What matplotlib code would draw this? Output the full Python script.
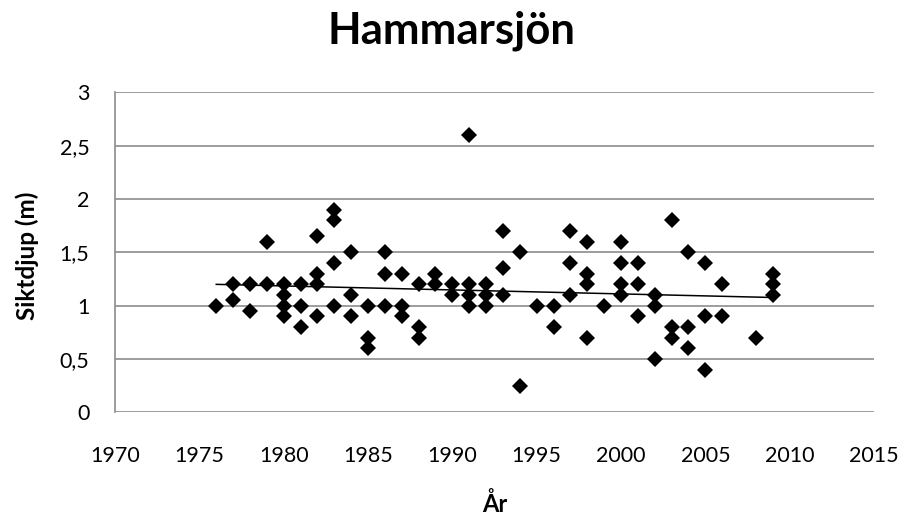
import numpy as np
import matplotlib
matplotlib.use('Agg')
import matplotlib.pyplot as plt
from matplotlib.ticker import FuncFormatter

plt.rcParams['font.family'] = ['Lato', 'DejaVu Sans']

# Siktdjup per år (m)
years = [1976,
         1977, 1977,
         1978, 1978,
         1979, 1979,
         1980, 1980, 1980, 1980,
         1981, 1981, 1981,
         1982, 1982, 1982, 1982,
         1983, 1983, 1983, 1983,
         1984, 1984, 1984,
         1985, 1985, 1985,
         1986, 1986, 1986,
         1987, 1987, 1987,
         1988, 1988, 1988,
         1989, 1989,
         1990, 1990,
         1991, 1991, 1991, 1991,
         1992, 1992, 1992,
         1993, 1993, 1993,
         1994, 1994,
         1995,
         1996, 1996,
         1997, 1997, 1997,
         1998, 1998, 1998, 1998,
         1999,
         2000, 2000, 2000, 2000,
         2001, 2001, 2001,
         2002, 2002, 2002,
         2003, 2003, 2003,
         2004, 2004, 2004,
         2005, 2005, 2005,
         2006, 2006,
         2008,
         2009, 2009, 2009]
depth = [1.0,
         1.2, 1.05,
         1.2, 0.95,
         1.6, 1.2,
         1.2, 1.1, 1.0, 0.9,
         1.2, 1.0, 0.8,
         1.65, 1.3, 1.2, 0.9,
         1.9, 1.8, 1.4, 1.0,
         1.5, 1.1, 0.9,
         1.0, 0.7, 0.6,
         1.5, 1.3, 1.0,
         1.3, 1.0, 0.9,
         1.2, 0.8, 0.7,
         1.3, 1.2,
         1.2, 1.1,
         2.6, 1.2, 1.1, 1.0,
         1.2, 1.1, 1.0,
         1.7, 1.35, 1.1,
         1.5, 0.25,
         1.0,
         1.0, 0.8,
         1.7, 1.4, 1.1,
         1.6, 1.3, 1.2, 0.7,
         1.0,
         1.6, 1.4, 1.2, 1.1,
         1.4, 1.2, 0.9,
         1.1, 1.0, 0.5,
         1.8, 0.8, 0.7,
         1.5, 0.8, 0.6,
         1.4, 0.9, 0.4,
         1.2, 0.9,
         0.7,
         1.3, 1.2, 1.1]

x_ticks = [1970, 1975, 1980, 1985, 1990, 1995, 2000, 2005, 2010, 2015]
y_ticks = [0, 0.5, 1, 1.5, 2, 2.5, 3]

fig = plt.figure(figsize=(9.03, 5.19), dpi=100)
ax = fig.add_axes([0.1274, 0.2056, 0.8405, 0.6166])

ax.plot(years, depth, linestyle='none', marker='D', markersize=8,
        color='black', markeredgewidth=0, zorder=3)

# linear trend line (like Excel)
k, m = np.polyfit(years, depth, 1)
tx = np.array([min(years), max(years)])
ax.plot(tx, k * tx + m, color='black', linewidth=1.1, zorder=2)

ax.set_xlim(1970, 2015)
ax.set_ylim(0, 3)
ax.set_xticks(x_ticks)
ax.set_yticks(y_ticks)
ax.yaxis.set_major_formatter(FuncFormatter(lambda v, p: ('%g' % v).replace('.', ',')))
ax.grid(axis='y', color='#8c8c8c', linewidth=1.2)
ax.set_axisbelow(True)
for s in ['top', 'right', 'bottom']:
    ax.spines[s].set_visible(False)
ax.spines['left'].set_color('#8c8c8c')
ax.spines['left'].set_linewidth(1.2)
ax.tick_params(length=0, labelsize=15.5)
ax.tick_params(axis='x', pad=24)
ax.tick_params(axis='y', pad=18.5)

ax.set_ylabel('Siktdjup (m)', fontsize=17.5, fontweight='bold')
ax.yaxis.set_label_coords(-0.1, 0.49)
ax.set_xlabel('År', fontsize=17, fontweight='bold')
ax.xaxis.set_label_coords(0.5, -0.248)
fig.text(0.5, 0.94, 'Hammarsjön', ha='center', va='center',
         fontsize=31.5, fontweight='bold')

fig.savefig('out.png', dpi=100)
